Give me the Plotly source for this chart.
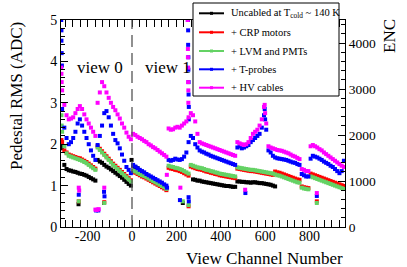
import plotly.graph_objects as go

# ---------------- data ----------------
ch_view0 = list(range(-315, 0, 10))      # 32 channels
ch_view1 = list(range(5, 960, 10))       # 96 channels
channels = ch_view0 + ch_view1

black_v0 = [1.90, 1.50, 1.40, 1.37, 1.36, 1.34, 1.33, 1.31, 1.29, 1.28, 1.26, 1.24, 1.21, 1.18, 1.15, 1.12,
            1.62, 1.58, 1.55, 1.50, 1.46, 1.43, 1.39, 1.35, 1.31, 1.27, 1.23, 1.19, 1.14, 1.09, 1.04, 1.00]
black_v1 = ([1.48, 1.45, 1.42] + [None] * 24 +
            [1.15, 1.14, 1.12, 1.12, 1.10, 1.09, 1.08, 1.07, 1.06, 1.05, 1.04, 1.03, 1.02, 1.01, 1.00, 0.99,
             0.99, 0.98, 0.97, 0.97,
             1.10, 1.10, 1.09, 1.09, 1.08, 1.08, 1.07, 1.08, 1.08, 1.07, 1.06, 1.06, 1.05, 1.04, 1.03, 1.02,
             1.00, 0.98] + [None] * 31)

red_v0 = [2.05, 1.85, 1.80, 1.75, 1.73, 1.71, 1.69, 1.67, 1.66, 1.63, 1.60, 1.57, 1.53, 1.49, 1.45, 1.41,
          1.95, 1.89, 1.83, 1.77, 1.71, 1.65, 1.59, 1.53, 1.48, 1.43, 1.38, 1.33, 1.28, 1.23, 1.18, 1.13]
red_v1 = [1.33, 1.31, 1.28, 1.25, 1.22, 1.20, 1.17, 1.14, 1.11, 1.08, 1.05, 1.02, 0.99, 0.96, 0.93, 0.89,
          1.43, 1.41, 1.40, 1.38, 1.37, 1.35, 1.33, 1.30, 1.27, 1.24,
          1.46, 1.44, 1.42, 1.40, 1.39, 1.38, 1.36, 1.34, 1.33, 1.31, 1.30, 1.28, 1.27, 1.25, 1.24, 1.23,
          1.22, 1.21, 1.20, 1.19, 1.18,
          1.41, 1.40, 1.39, 1.38, 1.37, 1.36, 1.35, 1.35, 1.34, 1.33, 1.32, 1.31, 1.30, 1.29, 1.28, 1.27, 1.26,
          1.34, 1.32, 1.31, 1.29, 1.27, 1.25, 1.23, 1.21, 1.19, 1.17, 1.15, 1.14,
          0.98, 0.96, 0.95, 0.94,
          1.29, 1.27, 1.25, 1.23, 1.21, 1.19, 1.17, 1.15, 1.13, 1.11, 1.09, 1.07, 1.05, 1.03, 1.01, 0.99]

green_v0 = [2.30, 1.95, 1.78, 1.72, 1.70, 1.68, 1.66, 1.64, 1.62, 1.60, 1.57, 1.54, 1.50, 1.46, 1.42, 1.38,
            1.92, 1.86, 1.80, 1.74, 1.68, 1.62, 1.56, 1.50, 1.45, 1.40, 1.35, 1.30, 1.25, 1.20, 1.15, 1.10]
green_v1 = [1.36, 1.34, 1.31, 1.28, 1.25, 1.23, 1.20, 1.17, 1.14, 1.11, 1.08, 1.05, 1.02, 0.99, 0.96, 0.92,
            1.48, 1.46, 1.45, 1.43, 1.42, 1.40, 1.38, 1.35, 1.32, 1.29,
            1.50, 1.48, 1.46, 1.44, 1.43, 1.42, 1.40, 1.38, 1.37, 1.35, 1.34, 1.32, 1.31, 1.29, 1.28, 1.27,
            1.26, 1.25, 1.24, 1.23, 1.22,
            1.44, 1.43, 1.42, 1.41, 1.40, 1.39, 1.38, 1.38, 1.37, 1.36, 1.35, 1.34, 1.33, 1.32, 1.31, 1.30, 1.29,
            1.27, 1.25, 1.24, 1.22, 1.20, 1.18, 1.16, 1.14, 1.12, 1.10, 1.08, 1.07,
            0.95, 0.93, 0.92, 0.91,
            1.22, 1.20, 1.18, 1.16, 1.14, 1.12, 1.10, 1.08, 1.06, 1.04, 1.02, 1.00, 0.98, 0.96, 0.94, 0.92]

blue_v0 = [2.85, 2.40, 2.15, 2.00, 2.05, 2.15, 2.30, 2.50, 2.60, 2.45, 2.30, 2.15, 2.00, 1.85, 1.72, 1.62,
           1.98, 2.20, 2.45, 2.75, 2.80, 2.65, 2.45, 2.25, 2.10, 2.02, 1.90, 1.75, 1.60, 1.45, 1.38, 1.30]
blue_v1 = [1.50, 1.46, 1.42, 1.38, 1.35, 1.32, 1.28, 1.25, 1.22, 1.19, 1.16, 1.13, 1.10, 1.07, 1.03, 1.00,
           1.62, 1.60, 1.62, 1.65, 1.63, 1.62, 1.64, 1.70, 1.80, 2.05, 2.20, 2.15, 2.00, 1.92,
           1.85, 1.82, 1.80, 1.77, 1.75, 1.72, 1.70, 1.68, 1.66, 1.64, 1.62, 1.60, 1.58, 1.56, 1.54, 1.52, 1.50,
           1.92, 1.95, 1.90, 1.92, 1.95, 1.98, 2.05, 2.10, 2.15, 2.20, 2.25, 2.40, 2.70, 2.35, 1.85, 1.80,
           1.72, 1.68, 1.66, 1.65, 1.64, 1.63, 1.62, 1.60, 1.58, 1.56, 1.55, 1.52, 1.50,
           1.28, 1.25, 1.22, 1.22,
           1.65, 1.72, 1.70, 1.68, 1.65, 1.62, 1.58, 1.55, 1.52, 1.48, 1.45, 1.40, 1.35, 1.30, 1.35, 1.60]

magenta_v0 = [3.30, 2.95, 2.70, 2.60, 2.62, 2.65, 2.75, 2.85, 2.92, 2.85, 2.72, 2.60, 2.50, 2.40, 2.30, 2.20,
              3.00, 3.25, 3.50, 3.40, 3.25, 3.12, 3.00, 2.90, 2.82, 2.72, 2.62, 2.50, 2.40, 2.28, 2.18, 2.12]
magenta_v1 = [2.25, 2.22, 2.18, 2.15, 2.12, 2.08, 2.05, 2.00, 1.97, 1.93, 1.90, 1.86, 1.82, 1.78, 1.74, 1.70,
              2.38, 2.35, 2.36, 2.40, 2.42, 2.40, 2.45, 2.50, 2.55, 2.65, 2.75, 2.70, 2.55, 2.25, 2.05,
              2.02, 2.00, 1.98, 1.96, 1.94, 1.92, 1.90, 1.88, 1.86, 1.84, 1.82, 1.80, 1.78, 1.76, 1.74, 1.72,
              2.05, 2.02, 2.00, 1.98, 2.00, 2.05, 2.15, 2.25, 2.30, 2.35, 2.45, 2.60, 2.90, 2.50, 1.95, 1.92,
              1.90, 1.88, 1.86, 1.85, 1.84, 1.82, 1.80, 1.78, 1.75, 1.72, 1.70, 1.67, 1.64,
              1.40, 1.38, 1.35, 1.35,
              1.95, 1.98, 1.95, 1.92, 1.88, 1.85, 1.80, 1.76, 1.72, 1.68, 1.64, 1.60, 1.56, 1.52, 1.48, 1.45]

# isolated channels (edge spikes and dead/low channels)
black_out_x = [-318, -317, -241, -126, 229, -2]
black_out_y = [2.05, 1.95, 0.55, 0.58, 0.58, 1.62]
red_out_x = [-318, -240, -125, 255, 833]
red_out_y = [2.10, 0.62, 0.60, 0.50, 0.62]
green_out_x = [-318, -317, -240, -125, 229, 255, 833]
green_out_y = [2.70, 2.45, 0.62, 0.58, 0.62, 0.53, 0.58]
blue_out_x = [-319, -318, -318, -317, -316, -240, -162, -157, -152, -126, -124, 158, 216,
              252, 253, 253, 254, 254, 255, 255, 256, 256, 255, 256, 511, 598, 600, 833]
blue_out_y = [5.00, 4.75, 4.50, 4.20, 3.90, 0.78, 0.40, 0.41, 0.40, 0.85, 0.74, 0.95, 0.65,
              5.00, 4.75, 4.40, 4.10, 3.80, 3.50, 3.20, 2.90, 2.60, 0.72, 0.62, 0.82, 2.85, 2.60, 0.75]
magenta_out_x = [-319, -318, -317, -240, -238, -165, -160, -155, -150, -125, 157, 218,
                 251, 252, 252, 253, 253, 254, 254, 510, 598, 600, 833]
magenta_out_y = [3.85, 3.70, 3.50, 0.95, 0.88, 0.42, 0.41, 0.42, 0.43, 0.95, 1.26, 0.95,
                 5.00, 4.30, 4.10, 3.85, 3.50, 3.30, 3.00, 0.90, 2.95, 2.75, 0.82]

series_names = ["Uncabled at T<sub>cold</sub> ~ 140 K", "+ CRP motors", "+ LVM and PMTs",
                "+ T-probes", "+ HV cables"]
series_colors = ["#000000", "#ff0000", "#64d264", "#0000ff", "#ff00ff"]

series_values = [black_v0 + black_v1, red_v0 + red_v1, green_v0 + green_v1,
                 blue_v0 + blue_v1, magenta_v0 + magenta_v1]
series_out = [(black_out_x, black_out_y), (red_out_x, red_out_y), (green_out_x, green_out_y),
              (blue_out_x, blue_out_y), (magenta_out_x, magenta_out_y)]

x_range = [-320, 960]
y_range = [0, 5]
enc_range = [0, 4500]
x_tickvals = [-200, 0, 200, 400, 600, 800]
x_ticktext = ["-200", "0", "200", "400", "600", "800"]

FONT = "Liberation Serif, Times New Roman, serif"

# ---------------- figure ----------------
fig = go.Figure()
for vals, (ox, oy), col in zip(series_values, series_out, series_colors):
    fig.add_trace(go.Scatter(
        x=channels + ox, y=vals + oy, mode="markers",
        marker=dict(symbol="square", size=4, color=col, line=dict(width=0)),
        showlegend=False, hoverinfo="skip"))

# dummy trace to activate the ENC axis
fig.add_trace(go.Scatter(x=[None], y=[None], yaxis="y2", showlegend=False, hoverinfo="skip"))

W, H = 407, 267
L, R, T, B = 61, 62, 20, 40
pw, ph = W - L - R, H - T - B


def px2x(px):
    return (px - L) / pw


def py2y(py):
    return (H - B - py) / ph


axis_common = dict(showline=True, linecolor="black", linewidth=1, ticks="inside",
                   tickcolor="black", showgrid=False, zeroline=False)

fig.update_layout(
    width=W, height=H,
    margin=dict(l=L, r=R, t=T, b=B),
    paper_bgcolor="white", plot_bgcolor="white",
    hovermode=False,
    xaxis=dict(range=x_range, tickmode="array", tickvals=x_tickvals, ticktext=x_ticktext,
               ticklen=7, mirror="allticks", ticklabelstandoff=-4,
               tickfont=dict(family=FONT, size=14, color="black"),
               minor=dict(tickmode="linear", tick0=0, dtick=200 / 6, ticklen=4,
                          ticks="inside", tickcolor="black"),
               **axis_common),
    yaxis=dict(range=y_range, dtick=1, tick0=0, ticklen=7,
               tickfont=dict(family=FONT, size=14, color="black"),
               minor=dict(dtick=0.2, ticklen=4, ticks="inside", tickcolor="black"),
               **axis_common),
    yaxis2=dict(range=enc_range, overlaying="y", side="right", anchor="x", dtick=1000, tick0=0,
                ticklen=7, tickfont=dict(family=FONT, size=13.5, color="black"),
                minor=dict(dtick=200, ticklen=4, ticks="inside", tickcolor="black"),
                **axis_common),
    showlegend=False,
)

# dashed separator between views
fig.add_shape(type="line", x0=0, x1=0, y0=y_range[0], y1=y_range[1], xref="x", yref="y",
              line=dict(color="#555555", width=1.3, dash="12px,6px"))

# titles
fig.add_annotation(text="View Channel Number", xref="paper", yref="paper", x=1.0, y=py2y(258),
                   xanchor="right", yanchor="middle", showarrow=False,
                   font=dict(family=FONT, size=17, color="black"))
fig.add_annotation(text="Pedestal RMS (ADC)", xref="paper", yref="paper", x=px2x(16), y=1.0,
                   xanchor="center", yanchor="top", textangle=-90, showarrow=False,
                   font=dict(family=FONT, size=17, color="black"))
fig.add_annotation(text="ENC", xref="paper", yref="paper", x=px2x(390), y=py2y(17),
                   xanchor="center", yanchor="top", textangle=-90, showarrow=False,
                   font=dict(family=FONT, size=17, color="black"))
fig.add_annotation(text="view 0", xref="x", yref="y", x=-259, y=3.86, xanchor="left",
                   yanchor="middle", showarrow=False, font=dict(family=FONT, size=17, color="black"))
fig.add_annotation(text="view 1", xref="x", yref="y", x=48, y=3.86, xanchor="left",
                   yanchor="middle", showarrow=False, font=dict(family=FONT, size=17, color="black"))

# legend box (drawn manually, ROOT style)
fig.add_shape(type="rect", xref="paper", yref="paper", x0=px2x(193), x1=px2x(339),
              y0=py2y(96), y1=py2y(3), fillcolor="white", line=dict(color="black", width=1),
              layer="above")
entry_py = [13.3, 32.3, 51.0, 69.3, 87.7]
for name, col, epy in zip(series_names, series_colors, entry_py):
    fig.add_shape(type="line", xref="paper", yref="paper", x0=px2x(199), x1=px2x(224),
                  y0=py2y(epy), y1=py2y(epy), line=dict(color=col, width=2), layer="above")
    fig.add_shape(type="rect", xref="paper", yref="paper", x0=px2x(210), x1=px2x(213),
                  y0=py2y(epy + 1.5), y1=py2y(epy - 1.5), fillcolor=col,
                  line=dict(width=0), layer="above")
    fig.add_annotation(text=name, xref="paper", yref="paper", x=px2x(229), y=py2y(epy),
                       xanchor="left", yanchor="middle", showarrow=False,
                       font=dict(family=FONT, size=10.5, color="black"))

fig.write_html("out.html", config={"displayModeBar": False, "staticPlot": True},
               post_script="document.body.style.margin='0px';document.body.style.padding='0px';")
